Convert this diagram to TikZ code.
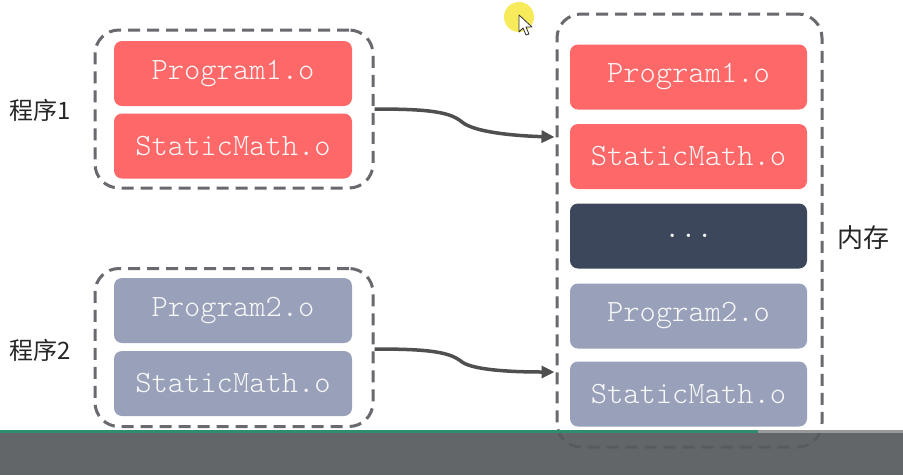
\documentclass[tikz,border=0pt]{standalone}
\usepackage{fontspec}
\newfontfamily\objfont{Latin Modern Mono Light}
\newfontfamily\cjkfont{Noto Sans CJK SC}
\usetikzlibrary{arrows.meta,calc}
\definecolor{objred}{HTML}{FF6868}
\definecolor{objgray}{HTML}{98A1B9}
\definecolor{objdark}{HTML}{3D475B}
\definecolor{framegray}{HTML}{69696F}
\definecolor{wiregray}{HTML}{4F4F4F}
\definecolor{barbg}{HTML}{575B5D}
\definecolor{bargreen}{HTML}{2F8C6C}
\definecolor{hilite}{HTML}{F7E84A}
\tikzset{
  group/.style={draw=framegray, line width=3pt, dash pattern=on 12pt off 7pt,
    rounded corners=24pt, minimum width=#1, minimum height=158pt, inner sep=0pt},
  objbox/.style={rounded corners=8pt, minimum height=65pt, minimum width=238pt,
    inner sep=0pt, text=white!94!gray, font=\objfont\fontsize{31}{34}\selectfont},
  redobj/.style={objbox, fill=objred},
  grayobj/.style={objbox, fill=objgray},
  darkobj/.style={objbox, fill=objdark},
  tag/.style={font=\cjkfont\fontsize{24}{26}\selectfont, text=black!85, inner sep=0pt},
  wire/.style={draw=wiregray, line width=3.5pt, -{Triangle[length=13pt,width=12pt]}}
}
\begin{document}
\begin{tikzpicture}[x=1pt,y=-1pt]
\useasboundingbox[fill=white] (0,0) rectangle (903,475);

% program 1
\node[group=278pt] (g1) at (234,109) {};
\node[redobj] (p1a) at (233,73.5) {Program1.o};
\node[redobj] (p1b) at (233,146) {StaticMath.o};
\node[tag, anchor=west] (l1) at (9,110) {程序1};

% program 2
\node[group=278pt] (g2) at (234,347.5) {};
\node[grayobj] (p2a) at (233,310.5) {Program2.o};
\node[grayobj] (p2b) at (233,383.5) {StaticMath.o};
\node[tag, anchor=west] (l2) at (9,350) {程序2};

% memory
\node[group=265pt, minimum height=433pt] (mem) at (689.5,230.5) {};
\node[redobj, minimum width=237pt] (m1) at (688.5,77) {Program1.o};
\node[redobj, minimum width=237pt] (m2) at (688.5,156.5) {StaticMath.o};
\node[darkobj, minimum width=237pt] (m3) at (688.5,236) {...};
\node[grayobj, minimum width=237pt] (m4) at (688.5,316) {Program2.o};
\node[grayobj, minimum width=237pt] (m5) at (688.5,394) {StaticMath.o};
\node[tag, anchor=west, font=\cjkfont\fontsize{26}{28}\selectfont] (lm) at (837,238) {内存};

% loading arrows
\coordinate (in1) at ($(mem.west)+(-1,-93.5)$);
\coordinate (in2) at ($(mem.west)+(-1,141.5)$);
\draw[wire] (g1.east) .. controls (430,109) and (450,112) .. (462,122)
  .. controls (475,133) and (520,136) .. (in1);
\draw[wire] ($(g2.east)+(0,1.5)$) .. controls (430,349) and (450,352) .. (462,362)
  .. controls (475,371) and (520,372) .. (in2);

% pointer highlight
\fill[hilite, opacity=0.9] (519,17) circle (15);
\draw[fill=white, draw=black!80, line width=0.8pt, line join=round]
  (519,15) -- (519,32) -- (523,28) -- (526,35) -- (529,34) -- (526,27) -- (532,27) -- cycle;

% player bar
\fill[barbg, opacity=0.93] (0,430) rectangle (903,475);
\fill[bargreen] (0,429.5) rectangle (758,433);
\fill[black!40] (758,429.5) rectangle (903,433);
\end{tikzpicture}
\end{document}
